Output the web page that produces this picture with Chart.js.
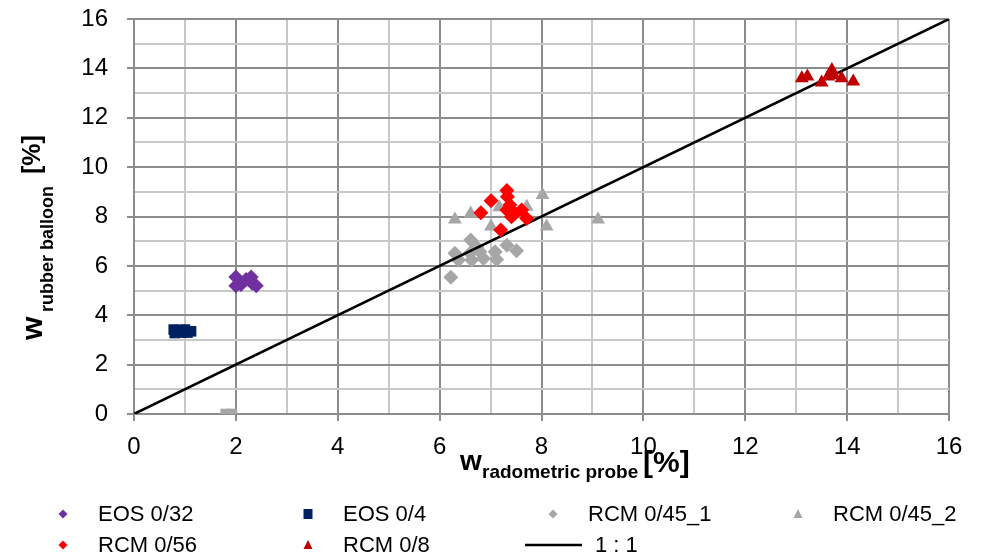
<!DOCTYPE html>
<html>
<head>
<meta charset="utf-8">
<script src="https://cdn.jsdelivr.net/npm/chart.js@4.4.0/dist/chart.umd.min.js"></script>
<style>
    html, body { margin: 0; padding: 0; background: #fff; }
</style>
</head>
<body>
<canvas id="moistureChart" width="982" height="556"></canvas>
<script>
// series values
const eos032X = [2.00, 2.00, 2.10, 2.20, 2.30, 2.32, 2.40];
const eos032Y = [5.55, 5.20, 5.25, 5.45, 5.55, 5.30, 5.20];

const eos04X = [0.78, 0.80, 0.90, 0.95, 1.00, 1.05, 1.12];
const eos04Y = [3.42, 3.28, 3.40, 3.30, 3.42, 3.30, 3.35];

const greySquareX = [1.80, 1.92];
const greySquareY = [0.00, 0.00];

const rcm045_1X = [6.22, 6.30, 6.37, 6.61, 6.60, 6.63, 6.79, 6.86, 7.09, 7.12, 7.32, 7.51, 6.73];
const rcm045_1Y = [5.54, 6.51, 6.24, 7.05, 6.51, 6.24, 6.57, 6.30, 6.57, 6.26, 6.84, 6.61, 6.75];

const rcm045_2X = [6.30, 6.61, 7.01, 7.17, 7.71, 8.02, 8.10, 9.11];
const rcm045_2Y = [7.88, 8.12, 7.59, 8.37, 8.40, 8.87, 7.59, 7.88];

const rcm056X = [7.32, 7.01, 6.81, 7.33, 7.38, 7.32, 7.41, 7.61, 7.71, 7.20, 7.48];
const rcm056Y = [9.05, 8.64, 8.15, 8.80, 8.47, 8.26, 7.99, 8.26, 7.92, 7.45, 8.13];

const rcm08X = [13.11, 13.22, 13.50, 13.70, 13.73, 13.89, 14.12, 13.63];
const rcm08Y = [13.60, 13.67, 13.43, 13.93, 13.73, 13.60, 13.47, 13.67];

const lineX = [0, 16];
const lineY = [0, 16];

const axisMin = 0;
const axisMax = 16;

const FONT = '"Liberation Sans", Arial, sans-serif';

function toPoints(xs, ys) {
    return xs.map((x, i) => ({ x: x, y: ys[i] }));
}

function markerSet(label, xs, ys, color, style, radius, order) {
    return {
        label: label,
        data: toPoints(xs, ys),
        backgroundColor: color,
        borderColor: color,
        borderWidth: 0,
        pointStyle: style,
        pointRadius: radius,
        order: order
    };
}

const datasets = [
    markerSet('EOS 0/32', eos032X, eos032Y, '#7030A0', 'rectRot', 7.5, 0),
    markerSet('EOS 0/4', eos04X, eos04Y, '#002060', 'rect', 7.5, 0),
    markerSet('RCM 0/56', rcm056X, rcm056Y, '#FF0000', 'rectRot', 7.5, 0),
    markerSet('RCM 0/8', rcm08X, rcm08Y, '#C00000', 'triangle', 8, 0),
    {
        label: '1 : 1',
        data: toPoints(lineX, lineY),
        showLine: true,
        borderColor: '#000',
        borderWidth: 2.5,
        pointRadius: 0,
        order: 1
    },
    markerSet('RCM 0/45_1', rcm045_1X, rcm045_1Y, '#A6A6A6', 'rectRot', 7.5, 2),
    markerSet('RCM 0/45_2', rcm045_2X, rcm045_2Y, '#A6A6A6', 'triangle', 8, 2),
    markerSet('', greySquareX, greySquareY, '#A6A6A6', 'rect', 7.5, 2)
];

// legend grid: [label, column x, row y]
const legendItems = [
    ['EOS 0/32', 63, 514],
    ['EOS 0/4', 308, 514],
    ['RCM 0/45_1', 553, 514],
    ['RCM 0/45_2', 798, 514],
    ['RCM 0/56', 63, 545],
    ['RCM 0/8', 308, 545],
    ['1 : 1', 553, 545]
];

function drawMarker(ctx, style, color, x, y) {
    ctx.fillStyle = color;
    ctx.beginPath();
    if (style === 'rectRot') {
        ctx.moveTo(x, y - 4.5);
        ctx.lineTo(x + 4.5, y);
        ctx.lineTo(x, y + 4.5);
        ctx.lineTo(x - 4.5, y);
    } else if (style === 'rect') {
        ctx.rect(x - 4.5, y - 5, 9, 10);
    } else if (style === 'triangle') {
        ctx.moveTo(x, y - 5);
        ctx.lineTo(x + 4.5, y + 4);
        ctx.lineTo(x - 4.5, y + 4);
    }
    ctx.closePath();
    ctx.fill();
}

const titlesAndLegend = {
    id: 'titlesAndLegend',
    afterDraw(chart) {
        const ctx = chart.ctx;
        ctx.save();
        ctx.fillStyle = '#000';
        ctx.textAlign = 'left';
        ctx.textBaseline = 'alphabetic';

        // x axis title
        ctx.font = 'bold 28px ' + FONT;
        ctx.fillText('w', 460, 470);
        ctx.font = 'bold 19px ' + FONT;
        ctx.fillText('radometric probe', 482, 478);
        ctx.font = 'bold 30px ' + FONT;
        ctx.fillText('[%]', 643, 472);

        // y axis title
        ctx.save();
        ctx.translate(42, 0);
        ctx.rotate(-Math.PI / 2);
        ctx.font = 'bold 30px ' + FONT;
        ctx.fillText('w', -340, 0);
        ctx.font = 'bold 18px ' + FONT;
        ctx.fillText('rubber balloon', -312, 11);
        ctx.font = 'bold 25px ' + FONT;
        ctx.fillText('[%]', -174, -2);
        ctx.restore();

        // legend
        ctx.font = '22px ' + FONT;
        ctx.textBaseline = 'middle';
        legendItems.forEach(item => {
            const ds = chart.data.datasets.find(d => d.label === item[0]);
            const mx = item[1];
            const my = item[2];
            if (ds.showLine) {
                ctx.strokeStyle = ds.borderColor;
                ctx.lineWidth = 2.5;
                ctx.beginPath();
                ctx.moveTo(mx - 28, my);
                ctx.lineTo(mx + 29, my);
                ctx.stroke();
                ctx.fillStyle = '#000';
                ctx.fillText(item[0], mx + 42, my + 1);
            } else {
                drawMarker(ctx, ds.pointStyle, ds.backgroundColor, mx, my);
                ctx.fillStyle = '#000';
                ctx.fillText(item[0], mx + 35, my + 1);
            }
        });
        ctx.restore();
    }
};

const gridColor = c => (c.tick && c.tick.value % 2 !== 0) ? '#C8C8C8' : '#8C8C8C';
const tickColor = c => (c.tick && c.tick.value % 2 !== 0) ? 'rgba(0,0,0,0)' : '#8C8C8C';
const evenLabel = v => (v % 2 === 0 ? v : '');

const ctx = document.getElementById('moistureChart').getContext('2d');
const moistureChart = new Chart(ctx, {
    type: 'scatter',
    data: { datasets: datasets },
    options: {
        responsive: false,
        animation: false,
        layout: { padding: { top: 19, right: 33, bottom: 0, left: 0 } },
        plugins: {
            legend: { display: false },
            tooltip: { enabled: false }
        },
        scales: {
            x: {
                type: 'linear',
                min: axisMin,
                max: axisMax,
                afterFit(scale) {
                    scale.height = 142;
                    scale.paddingLeft = 0;
                    scale.paddingRight = 0;
                },
                ticks: {
                    stepSize: 1,
                    autoSkip: false,
                    maxRotation: 0,
                    padding: 12,
                    color: '#000',
                    font: { family: FONT, size: 24 },
                    callback: evenLabel
                },
                grid: { color: gridColor, tickColor: tickColor, lineWidth: 2, tickLength: 7 },
                border: { color: '#8C8C8C', width: 2 }
            },
            y: {
                type: 'linear',
                min: axisMin,
                max: axisMax,
                afterFit(scale) {
                    scale.width = 134;
                    scale.paddingTop = 0;
                    scale.paddingBottom = 0;
                },
                ticks: {
                    stepSize: 1,
                    autoSkip: false,
                    padding: 19,
                    color: '#000',
                    font: { family: FONT, size: 24 },
                    callback: evenLabel
                },
                grid: { color: gridColor, tickColor: tickColor, lineWidth: 2, tickLength: 7 },
                border: { color: '#8C8C8C', width: 2 }
            }
        }
    },
    plugins: [titlesAndLegend]
});
</script>
</body>
</html>
